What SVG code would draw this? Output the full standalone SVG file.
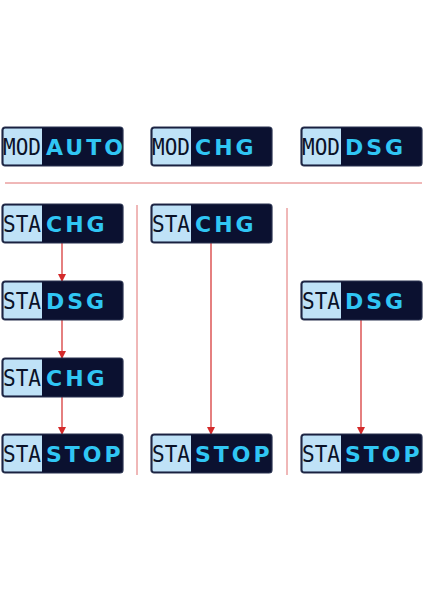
<svg xmlns="http://www.w3.org/2000/svg" width="424" height="600" viewBox="0 0 424 600">
<defs>
<style>
.bg{fill:#0b1130;stroke:#2a3350;stroke-width:1.2}
.lb{fill:#bfe2f7}
.k{font-family:"DejaVu Sans Mono","Liberation Mono",monospace;font-size:23px;fill:#0a1228}
.v{font-family:"DejaVu Sans","Liberation Sans",sans-serif;font-weight:bold;font-size:22px;fill:#30c6f4;letter-spacing:3px}
.sep{stroke:#e07070;stroke-width:1;fill:none}
.ar{stroke:#d42a2a;stroke-width:1.2;fill:none;marker-end:url(#ah)}
</style>
<marker id="ah" markerWidth="8" markerHeight="8" refX="7" refY="4" orient="auto" markerUnits="userSpaceOnUse">
<path d="M0,0 L8,4 L0,8 Z" fill="#d42a2a"/>
</marker>
<g id="box">
<rect class="bg" x="0" y="0" width="121" height="39" rx="3"/>
<path class="lb" d="M3,1.5 H40 V37.5 H3 Q1.5,37.5 1.5,36 V3 Q1.5,1.5 3,1.5 Z"/>
</g>
</defs>
<g id="connectors">
<line class="sep" x1="5" y1="183" x2="422" y2="183"/>
<line class="sep" x1="137" y1="205" x2="137" y2="475"/>
<line class="sep" x1="287" y1="208" x2="287" y2="475"/>
<line class="ar" x1="62" y1="243" x2="62" y2="281"/>
<line class="ar" x1="62" y1="320" x2="62" y2="358"/>
<line class="ar" x1="62" y1="397" x2="62" y2="434"/>
<line class="ar" x1="211" y1="243" x2="211" y2="434"/>
<line class="ar" x1="361" y1="320" x2="361" y2="434"/>
</g>
<g id="mod-auto" transform="translate(2,127)"><use href="#box"/><text class="k" x="1" y="28" textLength="38" lengthAdjust="spacingAndGlyphs">MOD</text><text class="v" x="44" y="28">AUTO</text></g>
<g id="mod-chg" transform="translate(151,127)"><use href="#box"/><text class="k" x="1" y="28" textLength="38" lengthAdjust="spacingAndGlyphs">MOD</text><text class="v" x="44" y="28">CHG</text></g>
<g id="mod-dsg" transform="translate(301,127)"><use href="#box"/><text class="k" x="1" y="28" textLength="38" lengthAdjust="spacingAndGlyphs">MOD</text><text class="v" x="44" y="28">DSG</text></g>
<g id="c1-chg" transform="translate(2,204)"><use href="#box"/><text class="k" x="1" y="28" textLength="38" lengthAdjust="spacingAndGlyphs">STA</text><text class="v" x="44" y="28">CHG</text></g>
<g id="c1-dsg" transform="translate(2,281)"><use href="#box"/><text class="k" x="1" y="28" textLength="38" lengthAdjust="spacingAndGlyphs">STA</text><text class="v" x="44" y="28">DSG</text></g>
<g id="c1-chg2" transform="translate(2,358)"><use href="#box"/><text class="k" x="1" y="28" textLength="38" lengthAdjust="spacingAndGlyphs">STA</text><text class="v" x="44" y="28">CHG</text></g>
<g id="c1-stop" transform="translate(2,434)"><use href="#box"/><text class="k" x="1" y="28" textLength="38" lengthAdjust="spacingAndGlyphs">STA</text><text class="v" x="44" y="28">STOP</text></g>
<g id="c2-chg" transform="translate(151,204)"><use href="#box"/><text class="k" x="1" y="28" textLength="38" lengthAdjust="spacingAndGlyphs">STA</text><text class="v" x="44" y="28">CHG</text></g>
<g id="c2-stop" transform="translate(151,434)"><use href="#box"/><text class="k" x="1" y="28" textLength="38" lengthAdjust="spacingAndGlyphs">STA</text><text class="v" x="44" y="28">STOP</text></g>
<g id="c3-dsg" transform="translate(301,281)"><use href="#box"/><text class="k" x="1" y="28" textLength="38" lengthAdjust="spacingAndGlyphs">STA</text><text class="v" x="44" y="28">DSG</text></g>
<g id="c3-stop" transform="translate(301,434)"><use href="#box"/><text class="k" x="1" y="28" textLength="38" lengthAdjust="spacingAndGlyphs">STA</text><text class="v" x="44" y="28">STOP</text></g>
</svg>
